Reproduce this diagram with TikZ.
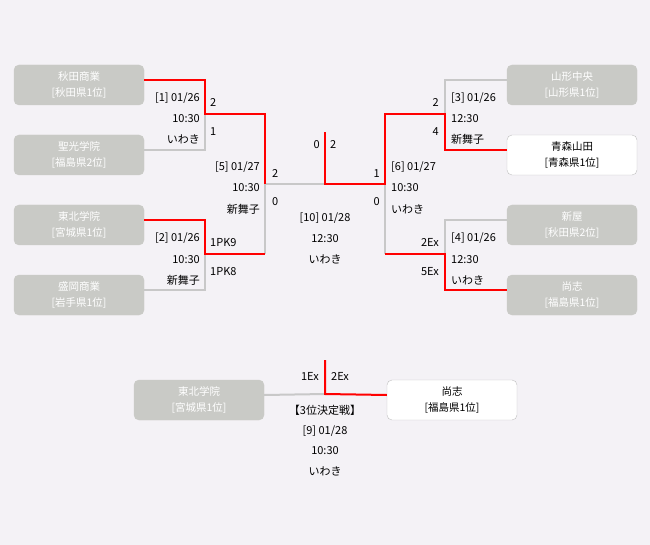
\documentclass[tikz,border=0pt]{standalone}
\usepackage{fontspec}
\setmainfont{Noto Sans CJK JP}
\usepackage{xcolor}
\definecolor{bgcol}{RGB}{244,242,246}
\definecolor{boxgray}{RGB}{201,202,198}
\definecolor{linegray}{RGB}{200,200,200}
\definecolor{boxline}{RGB}{192,192,192}

\tikzset{
	team/.style={rounded corners=5pt, minimum width=130pt, minimum height=40pt, inner sep=0pt, align=center, font=\fontsize{10.5}{16}\selectfont},
	teamout/.style={team, fill=boxgray, draw=boxgray, text=white},
	teamin/.style={team, fill=white, draw=boxline, text=black},
	winline/.style={draw=red, line width=2pt},
	loseline/.style={draw=linegray, line width=2pt},
	info/.style={inner sep=0pt, text height=8pt, text depth=0pt, font=\fontsize{11}{13}\selectfont},
}

\begin{document}
\begin{tikzpicture}[x=1pt,y=-1pt]
				\fill[bgcol] (0,0) rectangle (650,545);
				\useasboundingbox (0,0) rectangle (650,545);
				% Teams
				\node[teamout] (akita) at (79,85) {秋田商業\\{[秋田県1位]}};
				\node[teamout] (seiko) at (79,155) {聖光学院\\{[福島県2位]}};
				\node[teamout] (tohoku) at (79,225) {東北学院\\{[宮城県1位]}};
				\node[teamout] (morioka) at (79,295) {盛岡商業\\{[岩手県1位]}};
				\node[teamout] (yamagata) at (572,85) {山形中央\\{[山形県1位]}};
				\node[teamin] (aomori) at (572,155) {青森山田\\{[青森県1位]}};
				\node[teamout] (niiya) at (572,225) {新屋\\{[秋田県2位]}};
				\node[teamout] (shoshi) at (572,295) {尚志\\{[福島県1位]}};
				\node[teamout] (tohokuB) at (199,400) {東北学院\\{[宮城県1位]}};
				\node[teamin] (shoshiB) at (452,400) {尚志\\{[福島県1位]}};
				% Bracket points
				\coordinate (m1) at (205,114);
				\coordinate (m2) at (205,254);
				\coordinate (m5) at (265,184);
				\coordinate (m10) at (325,184);
				\coordinate (champ) at (325,132);
				\coordinate (m6) at (385,184);
				\coordinate (m3) at (445,114);
				\coordinate (m4) at (445,254);
				\coordinate (m9) at (325,394);
				\coordinate (bronze) at (325,360);
				% Losers first
				\draw[loseline] ([yshift=5pt]seiko.east) -| (m1);
				\draw[loseline] ([yshift=5pt]morioka.east) -| (m2);
				\draw[loseline] (m2 -| m5) -- (m5) -- (m10);
				\draw[loseline] ([yshift=5pt]yamagata.west) -| (m3);
				\draw[loseline] ([yshift=5pt]niiya.west) -| (m4);
				\draw[loseline] (m4 -| m6) -- (m6);
				\draw[loseline] ([yshift=5pt]tohokuB.east) -- (m9);
				% Winners
				\draw[winline] ([yshift=5pt]akita.east) -| (m1) -- (m1 -| m5) -- (m5);
				\draw[winline] ([yshift=5pt]tohoku.east) -| (m2) -- (m2 -| m5);
				\draw[winline] ([yshift=5pt]aomori.west) -| (m3) -- (m3 -| m6) -- (m6) -- (m10) -- (champ);
				\draw[winline] ([yshift=5pt]shoshi.west) -| (m4) -- (m4 -| m6);
				\draw[winline] ([yshift=5pt]shoshiB.west) -- (m9) -- (bronze);
				% [1]
				\node[info,anchor=east] (d1) at (200,98) {[1] 01/26};
				\node[info,anchor=east] (t1) at (200,119) {10:30};
				\node[info,anchor=east] (v1) at (200,140) {いわき};
				\node[info,anchor=west] (s1a) at (210,103) {2};
				\node[info,anchor=west] (s1b) at (210,132) {1};
				% [2]
				\node[info,anchor=east] (d2) at (200,238) {[2] 01/26};
				\node[info,anchor=east] (t2) at (200,259) {10:30};
				\node[info,anchor=east] (v2) at (200,280) {新舞子};
				\node[info,anchor=west] (s2a) at (210,243) {1PK9};
				\node[info,anchor=west] (s2b) at (210,272) {1PK8};
				% [5]
				\node[info,anchor=east] (d5) at (260,167) {[5] 01/27};
				\node[info,anchor=east] (t5) at (260,188) {10:30};
				\node[info,anchor=east] (v5) at (260,210) {新舞子};
				\node[info,anchor=west] (s5a) at (272,174) {2};
				\node[info,anchor=west] (s5b) at (272,202) {0};
				% [3]
				\node[info,anchor=west] (d3) at (451,98) {[3] 01/26};
				\node[info,anchor=west] (t3) at (451,119) {12:30};
				\node[info,anchor=west] (v3) at (451,140) {新舞子};
				\node[info,anchor=east] (s3a) at (439,103) {2};
				\node[info,anchor=east] (s3b) at (439,132) {4};
				% [4]
				\node[info,anchor=west] (d4) at (451,238) {[4] 01/26};
				\node[info,anchor=west] (t4) at (451,259) {12:30};
				\node[info,anchor=west] (v4) at (451,280) {いわき};
				\node[info,anchor=east] (s4a) at (439,243) {2Ex};
				\node[info,anchor=east] (s4b) at (439,272) {5Ex};
				% [6]
				\node[info,anchor=west] (d6) at (391,167) {[6] 01/27};
				\node[info,anchor=west] (t6) at (391,188) {10:30};
				\node[info,anchor=west] (v6) at (391,210) {いわき};
				\node[info,anchor=east] (s6a) at (380,174) {1};
				\node[info,anchor=east] (s6b) at (380,202) {0};
				% [10] final
				\node[info,anchor=east] (s10a) at (320,145) {0};
				\node[info,anchor=west] (s10b) at (330,145) {2};
				\node[info] (d10) at (325,218) {[10] 01/28};
				\node[info] (t10) at (325,239) {12:30};
				\node[info] (v10) at (325,260) {いわき};
				% [9] third place
				\node[info,anchor=east] (s9a) at (319,376) {1Ex};
				\node[info,anchor=west] (s9b) at (331,376) {2Ex};
				\node[info] (h9) at (325,410) {【3位決定戦】};
				\node[info] (d9) at (325,430) {[9] 01/28};
				\node[info] (t9) at (325,450) {10:30};
				\node[info] (v9) at (325,471) {いわき};
			\end{tikzpicture}
\end{document}
